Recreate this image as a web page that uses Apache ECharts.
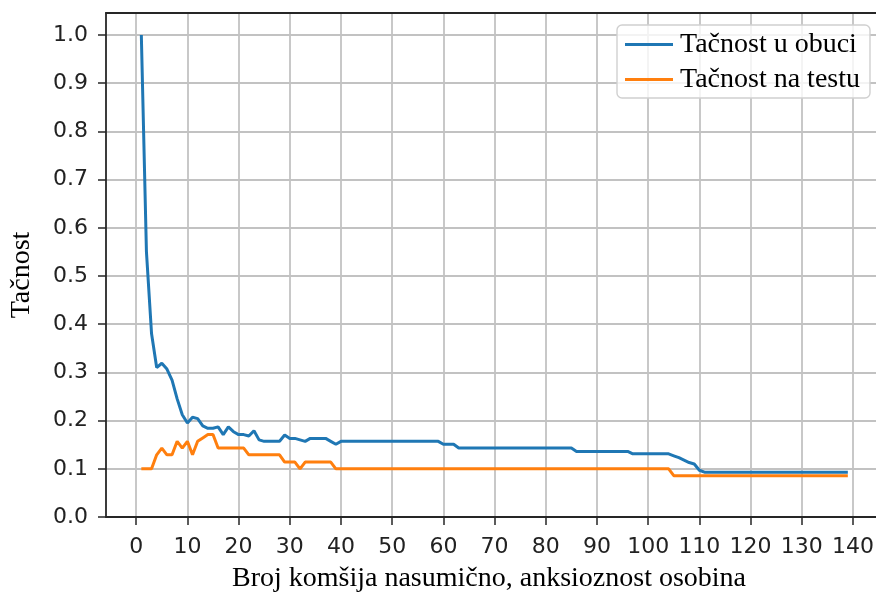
<!DOCTYPE html>
<html>
<head>
<meta charset="utf-8">
<script src="https://cdn.jsdelivr.net/npm/echarts@6/dist/echarts.min.js"></script>
<style>
  html, body { margin: 0; padding: 0; background: #fff; }
  #chart { width: 876px; height: 594px; }
</style>
</head>
<body>
<div id="chart"></div>
<script>
// broj komsija k = 1..139
const neighbors = Array.from({ length: 139 }, (_, i) => i + 1);

// tacnost u obuci
const trainAcc = [
  1.0, 0.55, 0.38, 0.31, 0.319, 0.307, 0.284, 0.245, 0.212, 0.195,
  0.207, 0.204, 0.189, 0.184, 0.184, 0.187, 0.171, 0.187, 0.177, 0.171,
  0.171, 0.168, 0.179, 0.16, 0.157, 0.157, 0.157, 0.157, 0.17, 0.163,
  0.163, 0.16, 0.157, 0.163, 0.163, 0.163, 0.163, 0.157, 0.151, 0.157,
  0.157, 0.157, 0.157, 0.157, 0.157, 0.157, 0.157, 0.157, 0.157, 0.157,
  0.157, 0.157, 0.157, 0.157, 0.157, 0.157, 0.157, 0.157, 0.157, 0.151,
  0.151, 0.151, 0.143, 0.143, 0.143, 0.143, 0.143, 0.143, 0.143, 0.143,
  0.143, 0.143, 0.143, 0.143, 0.143, 0.143, 0.143, 0.143, 0.143, 0.143,
  0.143, 0.143, 0.143, 0.143, 0.143, 0.136, 0.136, 0.136, 0.136, 0.136,
  0.136, 0.136, 0.136, 0.136, 0.136, 0.136, 0.131, 0.131, 0.131, 0.131,
  0.131, 0.131, 0.131, 0.131, 0.127, 0.123, 0.118, 0.113, 0.11, 0.097,
  0.093, 0.093, 0.093, 0.093, 0.093, 0.093, 0.093, 0.093, 0.093, 0.093,
  0.093, 0.093, 0.093, 0.093, 0.093, 0.093, 0.093, 0.093, 0.093, 0.093,
  0.093, 0.093, 0.093, 0.093, 0.093, 0.093, 0.093, 0.093, 0.093
];

// tacnost na testu
const testAcc = [
  0.1, 0.1, 0.1, 0.129, 0.143, 0.129, 0.129, 0.157, 0.143, 0.157,
  0.129, 0.157, 0.164, 0.171, 0.171, 0.143, 0.143, 0.143, 0.143, 0.143,
  0.143, 0.129, 0.129, 0.129, 0.129, 0.129, 0.129, 0.129, 0.114, 0.114,
  0.114, 0.1, 0.114, 0.114, 0.114, 0.114, 0.114, 0.114, 0.1, 0.1,
  0.1, 0.1, 0.1, 0.1, 0.1, 0.1, 0.1, 0.1, 0.1, 0.1,
  0.1, 0.1, 0.1, 0.1, 0.1, 0.1, 0.1, 0.1, 0.1, 0.1,
  0.1, 0.1, 0.1, 0.1, 0.1, 0.1, 0.1, 0.1, 0.1, 0.1,
  0.1, 0.1, 0.1, 0.1, 0.1, 0.1, 0.1, 0.1, 0.1, 0.1,
  0.1, 0.1, 0.1, 0.1, 0.1, 0.1, 0.1, 0.1, 0.1, 0.1,
  0.1, 0.1, 0.1, 0.1, 0.1, 0.1, 0.1, 0.1, 0.1, 0.1,
  0.1, 0.1, 0.1, 0.1, 0.0857, 0.0857, 0.0857, 0.0857, 0.0857, 0.0857,
  0.0857, 0.0857, 0.0857, 0.0857, 0.0857, 0.0857, 0.0857, 0.0857, 0.0857, 0.0857,
  0.0857, 0.0857, 0.0857, 0.0857, 0.0857, 0.0857, 0.0857, 0.0857, 0.0857, 0.0857,
  0.0857, 0.0857, 0.0857, 0.0857, 0.0857, 0.0857, 0.0857, 0.0857, 0.0857
];

const xTicks = [0, 10, 20, 30, 40, 50, 60, 70, 80, 90, 100, 110, 120, 130, 140];
const yTicks = [0, 0.1, 0.2, 0.3, 0.4, 0.5, 0.6, 0.7, 0.8, 0.9, 1.0];

const serif = "'Liberation Serif', 'Times New Roman', serif";
const sans = "'DejaVu Sans', sans-serif";

const gridLine = { show: true, lineStyle: { color: "#c2c2c2", width: 1.8 } };
const spine = { show: true, onZero: false, lineStyle: { color: "#262626", width: 1.8 } };
const tickStyle = { color: "#262626", width: 1.5 };

// x range goes past the right edge of the picture, like the original
const xMin = -5.9;
const xMax = 144.5;

const chart = echarts.init(document.getElementById("chart"), null, { renderer: "canvas" });

chart.setOption({
  animation: false,
  backgroundColor: "#fff",
  grid: {
    left: 106,
    top: 13,
    right: 0,
    bottom: 77,
    containLabel: false,
    outerBoundsMode: "none",
  },
  legend: {
    orient: "vertical",
    left: 617,
    top: 25,
    padding: [4, 10, 3, 8],
    itemWidth: 48,
    itemHeight: 3,
    itemGap: 4,
    icon: "rect",
    backgroundColor: "rgba(255,255,255,0.8)",
    borderColor: "#d0d0d0",
    borderWidth: 1.4,
    borderRadius: 5,
    textStyle: { fontFamily: serif, fontSize: 28, color: "#000", lineHeight: 31, padding: [0, 0, 0, 2] },
    data: ["Tačnost u obuci", "Tačnost na testu"],
  },
  xAxis: [
    {
      type: "value",
      position: "bottom",
      min: xMin,
      max: xMax,
      name: "Broj komšija nasumično, anksioznost osobina",
      nameLocation: "middle",
      nameGap: 48,
      nameTextStyle: { fontFamily: serif, fontSize: 28, color: "#000", padding: [0, 4, 0, 0] },
      axisLine: spine,
      axisTick: { show: true, customValues: xTicks, length: 8, lineStyle: tickStyle },
      axisLabel: {
        customValues: xTicks,
        fontFamily: sans,
        fontSize: 22,
        color: "#222",
        margin: 19,
      },
      splitLine: gridLine,
    },
    {
      // top spine
      type: "value",
      position: "top",
      min: xMin,
      max: xMax,
      axisLine: spine,
      axisTick: { show: false },
      axisLabel: { show: false },
      splitLine: { show: false },
    },
  ],
  yAxis: {
    type: "value",
    position: "left",
    min: 0,
    max: 1.0456,
    name: "Tačnost",
    nameLocation: "middle",
    nameRotate: 90,
    nameGap: 70,
    nameTextStyle: { fontFamily: serif, fontSize: 28, color: "#000", padding: [0, 20, 0, 0] },
    axisLine: spine,
    axisTick: { show: true, customValues: yTicks, length: 8, lineStyle: tickStyle },
    axisLabel: {
      customValues: yTicks,
      fontFamily: sans,
      fontSize: 22,
      color: "#222",
      margin: 18,
      formatter: (v) => v.toFixed(1),
    },
    splitLine: gridLine,
  },
  series: [
    {
      name: "Tačnost u obuci",
      type: "line",
      xAxisIndex: 0,
      symbol: "none",
      color: "#1f77b4",
      lineStyle: { width: 3, color: "#1f77b4" },
      data: neighbors.map((k, i) => [k, trainAcc[i]]),
    },
    {
      name: "Tačnost na testu",
      type: "line",
      xAxisIndex: 0,
      symbol: "none",
      color: "#ff7f0e",
      lineStyle: { width: 3, color: "#ff7f0e" },
      data: neighbors.map((k, i) => [k, testAcc[i]]),
    },
  ],
});
</script>
</body>
</html>
